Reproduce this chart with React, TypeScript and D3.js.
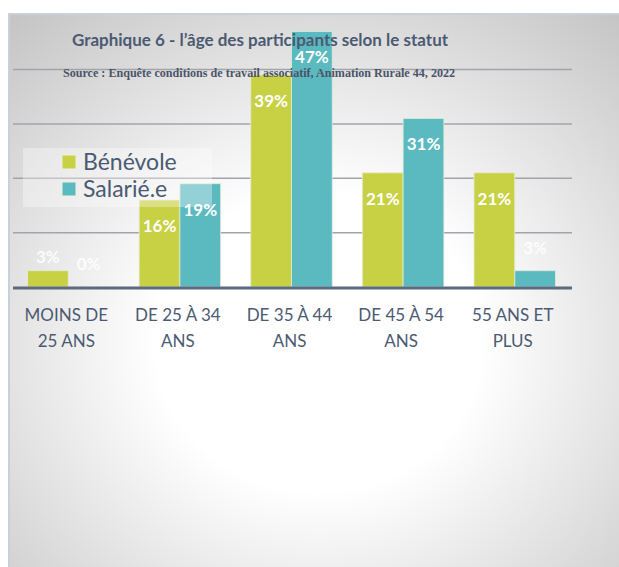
import * as d3 from 'd3';

const categories = ['MOINS DE 25 ANS', 'DE 25 À 34 ANS', 'DE 35 À 44 ANS', 'DE 45 À 54 ANS', '55 ANS ET PLUS'];
const categoryLines = [['MOINS DE', '25 ANS'], ['DE 25 À 34', 'ANS'], ['DE 35 À 44', 'ANS'], ['DE 45 À 54', 'ANS'], ['55 ANS ET', 'PLUS']];
const seriesNames = ['Bénévole', 'Salarié.e'];
const benevole = [3, 16, 39, 21, 21];
const salarie = [0, 19, 47, 31, 3];
const gridTicks = [10, 20, 30, 40];

const colors = ['#c8d043', '#5bb9c0'];
const textColor = '#4b5a72';

export default function App() {
  const width = 619, height = 567;
  const baseY = 287;

  const x = d3.scaleBand<string>().domain(categories).range([13, 570]).paddingInner(0.27).paddingOuter(0.13);
  const xs = d3.scaleBand<string>().domain(seriesNames).range([0, x.bandwidth()]);
  const y = d3.scaleLinear().domain([0, 40]).range([baseY, 69.5]);

  const series = [benevole, salarie];

  return (
    <svg width={width} height={height} style={{position: 'absolute', left: 0, top: 0}}>
      <defs>
        <radialGradient id="bg" cx="50%" cy="58%" r="82%" fx="50%" fy="58%">
          <stop offset="0%" stopColor="#ffffff"/>
          <stop offset="32%" stopColor="#ffffff"/>
          <stop offset="100%" stopColor="#bdbdbd"/>
        </radialGradient>
      </defs>
      <rect x={0} y={0} width={width} height={height} fill="#fff"/>
      <rect x={9} y={14} width={width} height={height} fill="url(#bg)" stroke="#c9d0da" strokeWidth={2}/>

      {/* gridlines */}
      <g stroke="#a3a3aa" strokeWidth={1.5}>
        {gridTicks.map(t => <line key={t} x1={13} x2={572} y1={y(t)} y2={y(t)}/>)}
      </g>

      {/* bars */}
      {series.map((vals, si) => (
        <g key={si} fill={colors[si]} stroke="#e4ecd8" strokeWidth={1} strokeOpacity={0.8}>
          {categories.map((c, i) => vals[i] > 0 && (
            <rect key={c} x={x(c)! + xs(seriesNames[si])!} y={y(vals[i])}
                  width={xs.bandwidth()} height={baseY - y(vals[i])}/>
          ))}
        </g>
      ))}

      {/* value labels */}
      <g fill="#fff" fontFamily="Lato, 'Open Sans', sans-serif" fontWeight="bold" fontSize={17} textAnchor="middle">
        {series.map((vals, si) => categories.map((c, i) => {
          const cx = x(c)! + xs(seriesNames[si])! + xs.bandwidth() / 2;
          const inside = vals[i] >= 10;
          const ly = inside ? y(vals[i]) + 32 : y(vals[i]) - (si === 0 ? 8 : 17);
          return <text key={si + c} x={cx} y={ly} opacity={inside ? 1 : 0.85}>{vals[i]}%</text>;
        }))}
      </g>

      {/* baseline */}
      <line x1={13} x2={572} y1={baseY + 1} y2={baseY + 1} stroke="#5a6a80" strokeWidth={3}/>

      {/* category labels */}
      <g fill={textColor} fontFamily="Lato, 'Open Sans', sans-serif" fontSize={17} textAnchor="middle">
        {categories.map((c, i) => (
          <text key={c} x={x(c)! + x.bandwidth() / 2 - 2} y={321}>
            <tspan x={x(c)! + x.bandwidth() / 2 - 2} dy={0}>{categoryLines[i][0]}</tspan>
            <tspan x={x(c)! + x.bandwidth() / 2 - 2} dy={26}>{categoryLines[i][1]}</tspan>
          </text>
        ))}
      </g>

      {/* title */}
      <text x={260} y={46} textAnchor="middle" fill={textColor} fontFamily="Lato, 'Open Sans', sans-serif"
            fontWeight="bold" fontSize={17}>Graphique 6 - l’âge des participants selon le statut</text>
      <text x={259} y={77} textAnchor="middle" fill="#4a5468" fontFamily="'Liberation Serif', 'Times New Roman', serif"
            fontWeight="bold" fontSize={12.1}>Source : Enquête conditions de travail associatif, Animation Rurale 44, 2022</text>

      {/* legend */}
      <rect x={23} y={148} width={189} height={59} fill="#fff" fillOpacity={0.35}/>
      {seriesNames.map((s, i) => (
        <g key={s} transform={`translate(62,${155 + i * 27})`}>
          <rect x={0} y={0} width={14} height={14} fill={colors[i]} stroke="#eef2e0" strokeWidth={1}/>
          <text x={21} y={15} fill={textColor} fontFamily="Lato, 'Open Sans', sans-serif" fontSize={23}>{s}</text>
        </g>
      ))}
    </svg>
  );
}
